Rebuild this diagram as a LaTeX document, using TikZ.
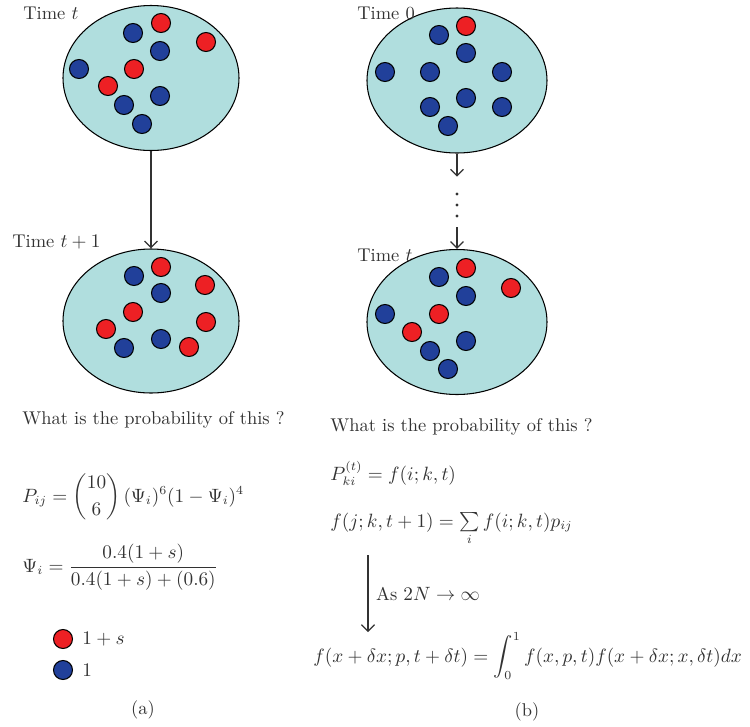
\documentclass[tikz,border=0pt]{standalone}
\usepackage{amsmath}
\usetikzlibrary{shapes.geometric,positioning,arrows.meta,calc}

\definecolor{poolfill}{RGB}{176,222,222}
\definecolor{ballred}{RGB}{237,32,36}
\definecolor{ballblue}{RGB}{33,64,154}
\definecolor{inkgray}{RGB}{50,50,50}

\begin{document}
\begin{tikzpicture}[
  font=\fontsize{10.5pt}{13pt}\selectfont,
  text=inkgray,
  >={Straight Barb[length=1.3mm,width=2.6mm]},
  pool/.style={ellipse, draw=black, line width=0.6pt, fill=poolfill, inner sep=0pt},
  redball/.style={circle, draw=black, line width=0.6pt, fill=ballred, minimum size=0.38cm, inner sep=0pt},
  blueball/.style={circle, draw=black, line width=0.6pt, fill=ballblue, minimum size=0.38cm, inner sep=0pt},
  lbl/.style={anchor=west, inner sep=0pt},
  formula/.style={anchor=base west, inner sep=0pt},
  arr/.style={->, draw=inkgray, line width=0.7pt}
]
\useasboundingbox (0,0) rectangle (15,-14.54);

%% ============ (a) Time t pool ============
\node[pool, minimum width=3.52cm, minimum height=2.9cm] (poolAt) at (3.02,-1.56) {};
\node[lbl] (timeAt) at (0.46,-0.27) {Time $t$};

\node[blueball] (at1)  at (2.66,-0.66) {};
\node[redball]  (at2)  at (3.22,-0.46) {};
\node[redball]  (at3)  at (4.12,-0.84) {};
\node[blueball] (at4)  at (3.20,-1.02) {};
\node[blueball] (at5)  at (1.58,-1.38) {};
\node[redball]  (at6)  at (2.68,-1.38) {};
\node[redball]  (at7)  at (2.16,-1.72) {};
\node[blueball] (at8)  at (3.20,-1.92) {};
\node[blueball] (at9)  at (2.48,-2.10) {};
\node[blueball] (at10) at (2.84,-2.48) {};

%% ============ (a) Time t+1 pool ============
\node[pool, minimum width=3.52cm, minimum height=2.88cm] (poolAn) at (3.02,-6.42) {};
\node[lbl] (timeAn) at (0.24,-4.84) {Time $t+1$};

\node[blueball] (an1)  at (2.68,-5.52) {};
\node[redball]  (an2)  at (3.22,-5.34) {};
\node[redball]  (an3)  at (4.10,-5.70) {};
\node[blueball] (an4)  at (3.22,-5.86) {};
\node[redball]  (an5)  at (2.66,-6.24) {};
\node[redball]  (an6)  at (2.12,-6.58) {};
\node[redball]  (an7)  at (4.12,-6.44) {};
\node[blueball] (an8)  at (2.48,-6.96) {};
\node[blueball] (an9)  at (3.22,-6.78) {};
\node[redball]  (an10) at (3.78,-6.94) {};

\draw[arr] (poolAt) -- (poolAn);

%% ============ (a) formulas and legend ============
\node[formula] (questA) at (0.44,-8.48) {What is the probability of this ?};
\node[formula] (pij) at (0.44,-10.04)
  {$\displaystyle P_{ij} = \binom{10}{6}\,(\Psi_i)^6(1-\Psi_i)^4$};
\node[formula] (psi) at (0.44,-11.44)
  {$\displaystyle \Psi_i = \frac{0.4(1+s)}{0.4(1+s)+(0.6)}$};

\node[redball]  (keyred)  at (1.26,-12.78) {};
\node[blueball] (keyblue) at (1.26,-13.40) {};
\node[right=0.18cm of keyred, inner sep=0pt]  {$1+s$};
\node[right=0.18cm of keyblue, inner sep=0pt] {$1$};

\node (capA) at (2.86,-14.2) {(a)};

%% ============ (b) Time 0 pool ============
\node[pool, minimum width=3.6cm, minimum height=2.9cm] (poolB0) at (9.14,-1.61) {};
\node[lbl] (timeB0) at (7.14,-0.27) {Time 0};

\node[redball]  (b01)  at (9.32,-0.52) {};
\node[blueball] (b02)  at (8.78,-0.70) {};
\node[blueball] (b03)  at (9.32,-1.06) {};
\node[blueball] (b04)  at (7.70,-1.44) {};
\node[blueball] (b05)  at (8.60,-1.44) {};
\node[blueball] (b06)  at (10.04,-1.44) {};
\node[blueball] (b07)  at (9.32,-1.96) {};
\node[blueball] (b08)  at (8.60,-2.14) {};
\node[blueball] (b09)  at (10.04,-2.14) {};
\node[blueball] (b010) at (8.96,-2.52) {};

%% dots between the two pools
\node[minimum height=1cm, minimum width=0.3cm, inner sep=0pt] (gap) at (9.14,-4.04) {};
\fill[inkgray] ($(gap)+(0,0.16)$)  circle (0.9pt);
\fill[inkgray] ($(gap)+(0,-0.06)$) circle (0.9pt);
\fill[inkgray] ($(gap)+(0,-0.28)$) circle (0.9pt);

%% ============ (b) Time t pool ============
\node[pool, minimum width=3.6cm, minimum height=2.9cm] (poolBt) at (9.14,-6.44) {};
\node[lbl] (timeBt) at (7.14,-5.1) {Time $t$};

\node[redball]  (bt1)  at (9.32,-5.36) {};
\node[blueball] (bt2)  at (8.78,-5.54) {};
\node[redball]  (bt3)  at (10.22,-5.76) {};
\node[blueball] (bt4)  at (9.32,-5.92) {};
\node[blueball] (bt5)  at (7.70,-6.28) {};
\node[redball]  (bt6)  at (8.78,-6.28) {};
\node[redball]  (bt7)  at (8.24,-6.64) {};
\node[blueball] (bt8)  at (9.32,-6.82) {};
\node[blueball] (bt9)  at (8.60,-7.02) {};
\node[blueball] (bt10) at (8.96,-7.38) {};

\draw[arr] (poolB0) -- (gap);
\draw[arr] (gap) -- (poolBt);

%% ============ (b) formulas ============
\node[formula] (questB) at (6.6,-8.62) {What is the probability of this ?};
\node[formula] (pki) at (6.6,-9.6) {$P^{(t)}_{ki} = f(i;k,t)$};
\node[formula] (fj) at (6.6,-10.54) {$f(j;k,t+1) = \sum\limits_i f(i;k,t)p_{ij}$};

%% limit arrow: free ends kept as coordinates
\coordinate (limtop) at (7.36,-11.1);
\coordinate (limbot) at (7.36,-12.64);
\draw[arr] (limtop) -- node[right=1pt]{As $2N\to\infty$} (limbot);

\node[formula] (fx) at (6.26,-13.24)
  {$f(x+\delta x;p,t+\delta t) = \displaystyle\int_0^1 f(x,p,t)f(x+\delta x;x,\delta t)dx$};

\node (capB) at (10.54,-14.24) {(b)};

\end{tikzpicture}
\end{document}
